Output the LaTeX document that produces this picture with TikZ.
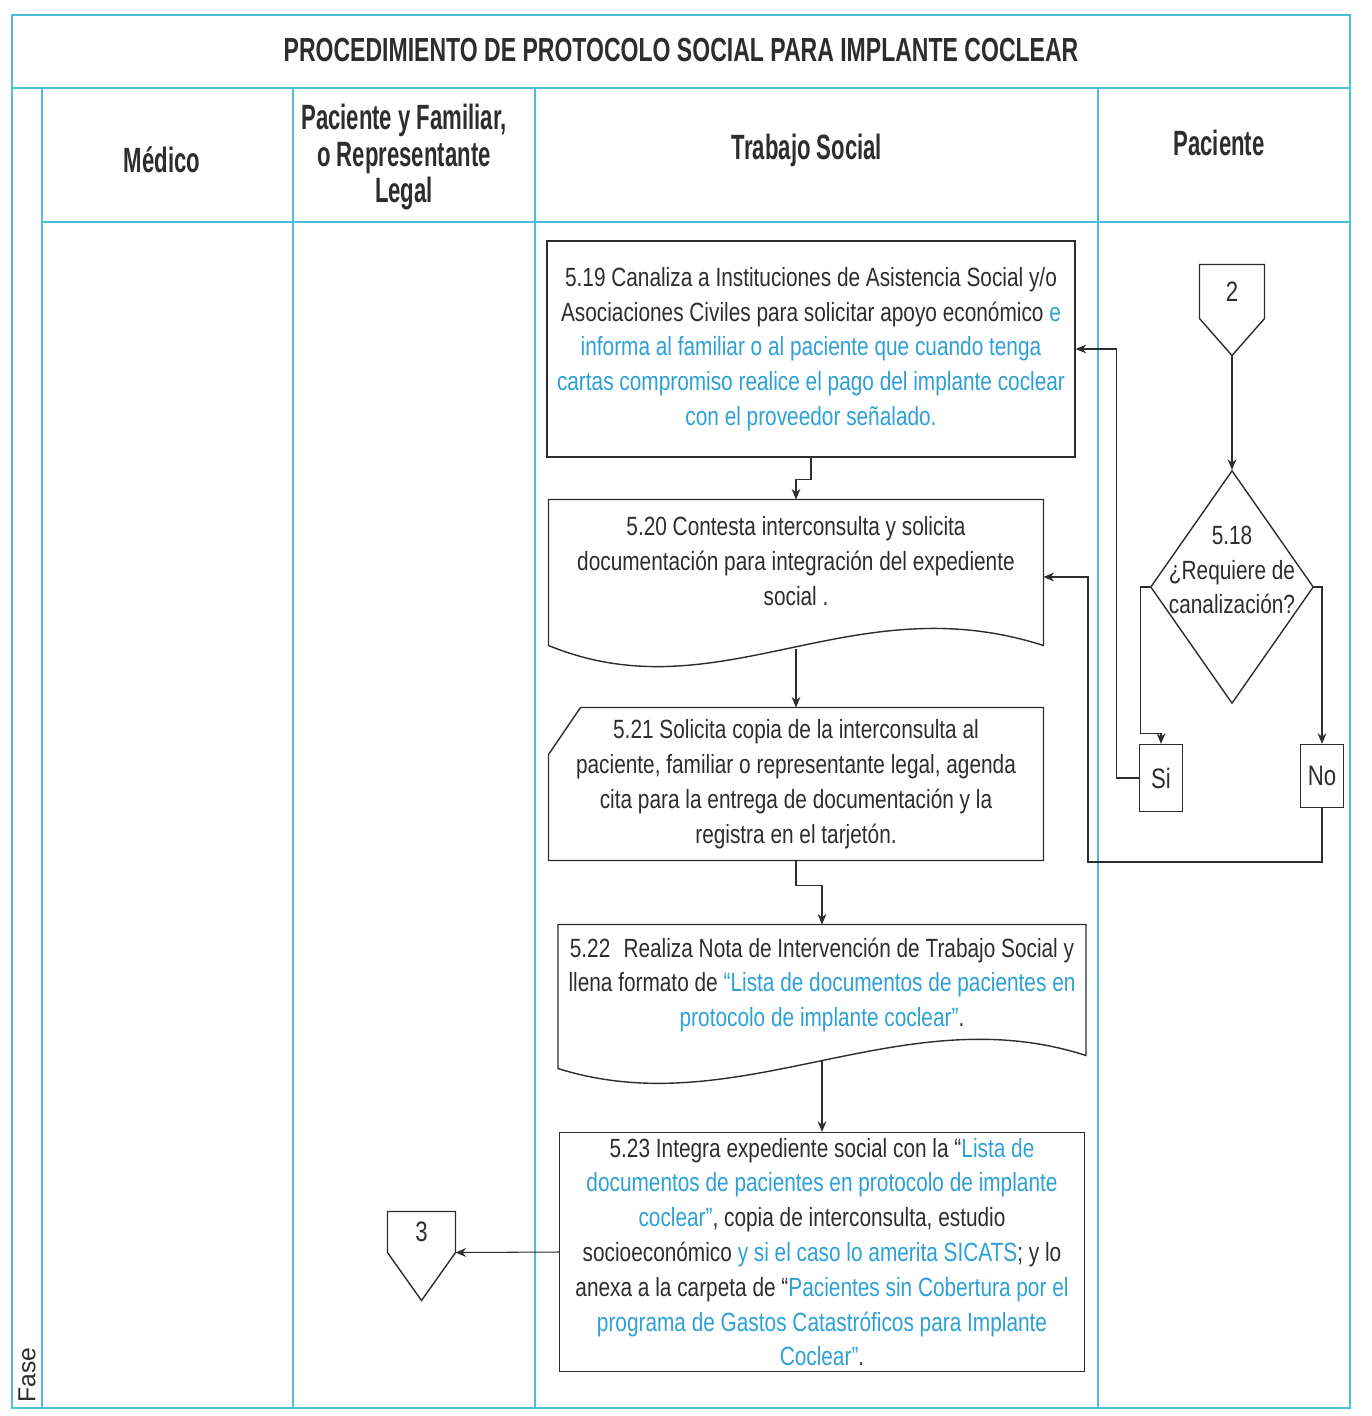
\documentclass[tikz,border=0pt]{standalone}
\usepackage{fontspec}
\setmainfont{Liberation Sans}
\newfontfamily\boxfont{Liberation Sans}[FakeStretch=0.79]
\newfontfamily\headfont{Liberation Sans}[FakeStretch=0.63]
\newfontfamily\titlefont{Liberation Sans}[FakeStretch=0.69]
\usetikzlibrary{shapes.geometric, positioning, calc, arrows.meta}

\definecolor{lanecol}{RGB}{75,190,220}
\definecolor{linkblue}{RGB}{45,160,215}
\definecolor{inkgray}{RGB}{45,45,45}
\newcommand\azul[1]{\textcolor{linkblue}{#1}}

\begin{document}
\begin{tikzpicture}[
    x = 0.02cm, y = -0.02cm,
    > = {Stealth[length=6pt, width=5pt]},
    semithick
]

% Setup the styles for lanes, boxes and arrows
\tikzstyle{lane}=[draw=lanecol, line width=1.1pt]
\tikzstyle{head}=[font=\headfont\bfseries\fontsize{20}{21}\selectfont, align=center, text=inkgray]
\tikzstyle{task}=[font=\boxfont\fontsize{15}{19.8}\selectfont, align=center, text=inkgray, inner sep=0pt]
\tikzstyle{boxed}=[task, draw=inkgray, line width=0.8pt]
\tikzstyle{outline}=[draw=inkgray, line width=0.8pt]
\tikzstyle{flow}=[->, draw=inkgray, line width=0.6pt]

\useasboundingbox (0,0) rectangle (1372,1416);

% Draw the frame and the lanes
\draw[lane] (12,15) rectangle (1350,1408);
\draw[lane] (12,88) -- (1350,88);
\draw[lane] (42,222) -- (1350,222);
\draw[lane] (42,88) -- (42,1408);
\draw[lane] (293,88) -- (293,1408);
\draw[lane] (535,88) -- (535,1408);
\draw[lane] (1098,88) -- (1098,1408);

% Draw the title and the headers
\node[text=inkgray, font=\titlefont\bfseries\fontsize{19}{24}\selectfont] (titulo) at (681,50) {PROCEDIMIENTO DE PROTOCOLO SOCIAL PARA IMPLANTE COCLEAR};
\node[head] (hmedico) at (162,160) {Médico};
\node[head] (hfamiliar) at (404,157) {Paciente y Familiar,\\ o Representante\\ Legal};
\node[head] (htrabajo) at (807,150) {Trabajo Social};
\node[head] (hpaciente) at (1219,143) {Paciente};
\node[rotate=90, anchor=west, text=inkgray, inner sep=3pt, font=\fontsize{14}{14}\selectfont] (fase) at (27,1408) {Fase};

% Draw the connectors
\node[task, minimum width=1.28cm, minimum height=1.06cm, font=\boxfont\fontsize{16}{16}\selectfont] (c2) at (1232,291.5) {2};
\draw[outline] (c2.north west) -- (c2.north east) -- (c2.south east) -- ($(c2.south)+(0,37)$) -- (c2.south west) -- cycle;
\coordinate (c2tip) at ($(c2.south)+(0,37)$);

\node[task, minimum width=1.34cm, minimum height=0.8cm, font=\boxfont\fontsize{16}{16}\selectfont] (c3) at (421.5,1232) {3};
\draw[outline] (c3.north west) -- (c3.north east) -- (c3.south east) -- ($(c3.south)+(0,48)$) -- (c3.south west) -- cycle;

% Draw the decision
\node[diamond, draw=inkgray, line width=0.8pt, inner sep=0pt, minimum width=3.26cm, minimum height=4.66cm] (d518) at (1232,587) {};
\node[task] (q518) at (1232,570) {5.18\\ ¿Requiere de\\ canalización?};
\node[boxed, minimum width=0.86cm, minimum height=1.34cm, font=\boxfont\fontsize{16}{16}\selectfont] (si) at (1161,778) {Si};
\node[boxed, minimum width=0.86cm, minimum height=1.26cm, font=\boxfont\fontsize{16}{16}\selectfont] (no) at (1322,776) {No};

% Draw the steps
\node[boxed, minimum width=10.56cm, minimum height=4.32cm] (t519) at (811,349) {5.19 Canaliza a Instituciones de Asistencia Social y/o\\ Asociaciones Civiles para solicitar apoyo económico \azul{e}\\ \azul{informa al familiar o al paciente que cuando tenga}\\ \azul{cartas compromiso realice el pago del implante coclear}\\ \azul{con el proveedor señalado.}};

\node[task, minimum width=9.88cm, minimum height=2.44cm] (t520) at (796,561) {5.20 Contesta interconsulta y solicita\\ documentación para integración del expediente\\ social .};
\draw[outline] (t520.north west) -- (t520.north east) -- ($(t520.south east)+(0,23)$) .. controls ($(t520.south east)+(-193,-39)$) and ($(t520.south west)+(171,93)$) .. ($(t520.south west)+(0,23)$) -- cycle;

\node[task, minimum width=9.88cm, minimum height=3.04cm] (t521) at (796,784) {5.21 Solicita copia de la interconsulta al\\ paciente, familiar o representante legal, agenda\\ cita para la entrega de documentación y la\\ registra en el tarjetón.};
\draw[outline] ($(t521.north west)+(32,0)$) -- (t521.north east) -- (t521.south east) -- (t521.south west) -- ($(t521.north west)+(0,47)$) -- cycle;

\node[task, minimum width=10.54cm, minimum height=2.4cm] (t522) at (822,985) {5.22\enspace Realiza Nota de Intervención de Trabajo Social y\\ llena formato de \azul{“Lista de documentos de pacientes en}\\ \azul{protocolo de implante coclear”}.};
\draw[outline] (t522.north west) -- (t522.north east) -- ($(t522.south east)+(0,10)$) .. controls ($(t522.south east)+(-185,-50)$) and ($(t522.south west)+(181,80)$) .. ($(t522.south west)+(0,23)$) -- cycle;

\node[boxed, minimum width=10.5cm, minimum height=4.78cm] (t523) at (822,1252) {5.23 Integra expediente social con la “\azul{Lista de}\\ \azul{documentos de pacientes en protocolo de implante}\\ \azul{coclear”}, copia de interconsulta, estudio\\ socioeconómico \azul{y si el caso lo amerita SICATS}; y lo\\ anexa a la carpeta de “\azul{Pacientes sin Cobertura por el}\\ \azul{programa de Gastos Catastróficos para Implante}\\ \azul{Coclear”}.};

% Draw the transitions
\draw[flow] (c2tip) -- (d518.north);
\draw[flow] (d518.west) -- ++(-9,0) |- ($(si.north)+(0,-10)$) -- (si.north);
\draw[flow] (d518.east) -| (no.north);
\draw[flow] (si.west) -- ++(-22,0) |- (t519.east);
\coordinate (nobase) at (1088,862);
\draw[flow] (no.south) |- (nobase) |- ($(t520.east)+(0,16)$);
\draw[flow] (t519.south) -- ++(0,22) -| (t520.north);
\draw[flow] ($(t520.south)+(0,26)$) -- (t521.north);
\draw[flow] (t521.south) -- ++(0,25) -| (t522.north);
\draw[flow] ($(t522.south)+(0,15)$) -- (t523.north);
\draw[flow] (t523.west) -- (c3.south east);

\end{tikzpicture}
\end{document}
